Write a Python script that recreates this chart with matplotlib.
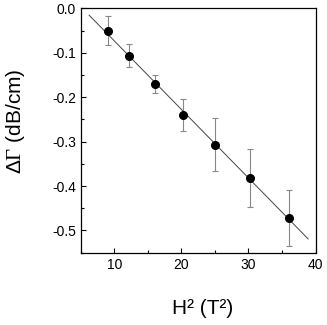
import numpy as np
import matplotlib
matplotlib.use("Agg")
import matplotlib.pyplot as plt
from matplotlib.ticker import MultipleLocator, FormatStrFormatter

# 数据：H^2 (T^2) 与 ΔΓ (dB/cm)
h2 = [9.0, 12.2, 16.0, 20.25, 25.0, 30.25, 36.0]
d_gamma = [-0.050, -0.106, -0.170, -0.240, -0.307, -0.382, -0.471]
d_gamma_err = [0.033, 0.026, 0.020, 0.037, 0.060, 0.065, 0.063]

# 线性拟合线的范围
fit_x = [6.24, 38.9]

plt.rcParams['font.family'] = ['Liberation Sans', 'DejaVu Sans']
plt.rcParams['mathtext.fontset'] = 'custom'
plt.rcParams['mathtext.rm'] = 'Liberation Sans'
plt.rcParams['mathtext.it'] = 'Liberation Sans:italic'
plt.rcParams['mathtext.sf'] = 'Liberation Serif'

fig = plt.figure(figsize=(3.27, 3.25), dpi=100)
ax = fig.add_axes([0.247, 0.2225, 0.718, 0.7515])

# 拟合直线
k, b = np.polyfit(h2, d_gamma, 1)
fx = np.array(fit_x)
ax.plot(fx, k * fx + b, color='#444444', linewidth=0.7)

# 误差棒与数据点
ax.errorbar(h2, d_gamma, yerr=d_gamma_err, fmt='none', ecolor='#888888',
            elinewidth=0.8, capsize=2.2, capthick=0.8)
ax.plot(h2, d_gamma, 'o', color='black', markersize=5.5)

ax.set_xlim(5, 40)
ax.set_ylim(-0.55, 0.0)
ax.xaxis.set_major_locator(MultipleLocator(10))
ax.xaxis.set_minor_locator(MultipleLocator(5))
ax.yaxis.set_major_locator(MultipleLocator(0.1))
ax.yaxis.set_minor_locator(MultipleLocator(0.05))
ax.tick_params(which='both', direction='in', top=False, right=False,
               width=0.8, labelsize=10)
ax.tick_params(which='major', length=3.5)
ax.tick_params(which='minor', length=2.5)
ax.yaxis.set_major_formatter(FormatStrFormatter('%.1f'))

ax.set_xlabel('H² (T²)', fontsize=15)
ax.set_ylabel(r'Δ$\mathsf{\Gamma}$ (dB/cm)', fontsize=15)
ax.xaxis.set_label_coords(0.52, -0.19)
ax.yaxis.set_label_coords(-0.228, 0.537)

for s in ax.spines.values():
    s.set_linewidth(0.9)

fig.savefig('out.png', dpi=100)
